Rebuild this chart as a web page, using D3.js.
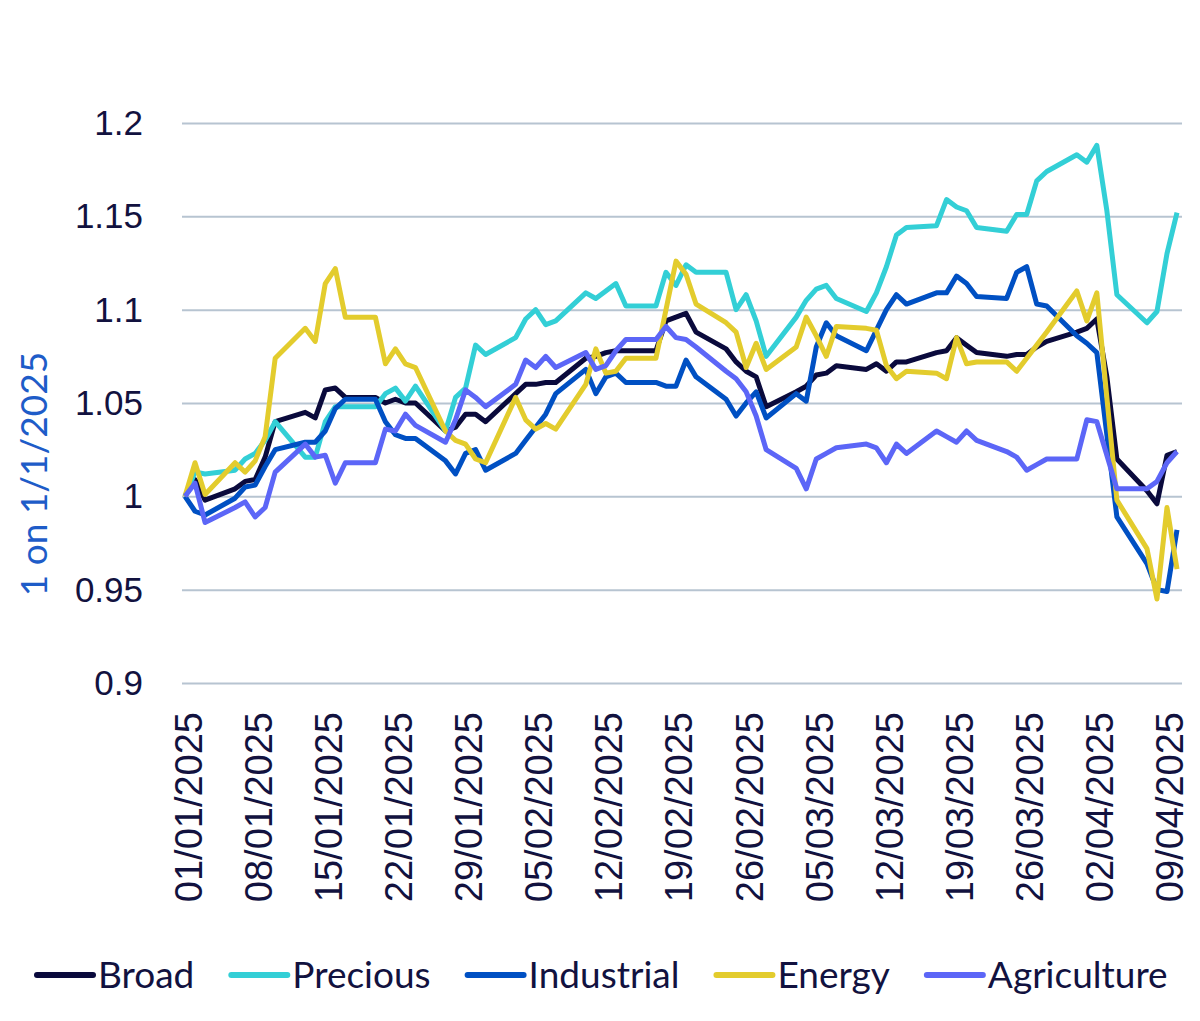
<!DOCTYPE html>
<html>
<head>
<meta charset="utf-8">
<script src="https://cdn.jsdelivr.net/npm/d3@7"></script>
<style>
	body { margin: 0; background: #fff; }
	svg { display: block; font-family: Lato, 'Noto Sans', sans-serif; }
	.tickLabel { fill: #12123f; }
	.yAxis text { font-size: 35px; }
	.xAxis text { font-size: 38px; }
	#legend text { font-size: 37px; }
</style>
</head>
<body>
<div id="chart"><svg width="1200" height="1021"></svg></div>
<script>
// trading days (holidays carry the previous value)
const dates = [
	'2025-01-01', '2025-01-02', '2025-01-03',
	'2025-01-06', '2025-01-07', '2025-01-08', '2025-01-09', '2025-01-10',
	'2025-01-13', '2025-01-14', '2025-01-15', '2025-01-16', '2025-01-17',
	'2025-01-20', '2025-01-21', '2025-01-22', '2025-01-23', '2025-01-24',
	'2025-01-27', '2025-01-28', '2025-01-29', '2025-01-30', '2025-01-31',
	'2025-02-03', '2025-02-04', '2025-02-05', '2025-02-06', '2025-02-07',
	'2025-02-10', '2025-02-11', '2025-02-12', '2025-02-13', '2025-02-14',
	'2025-02-17', '2025-02-18', '2025-02-19', '2025-02-20', '2025-02-21',
	'2025-02-24', '2025-02-25', '2025-02-26', '2025-02-27', '2025-02-28',
	'2025-03-03', '2025-03-04', '2025-03-05', '2025-03-06', '2025-03-07',
	'2025-03-10', '2025-03-11', '2025-03-12', '2025-03-13', '2025-03-14',
	'2025-03-17', '2025-03-18', '2025-03-19', '2025-03-20', '2025-03-21',
	'2025-03-24', '2025-03-25', '2025-03-26', '2025-03-27', '2025-03-28',
	'2025-03-31', '2025-04-01', '2025-04-02', '2025-04-03', '2025-04-04',
	'2025-04-07', '2025-04-08', '2025-04-09', '2025-04-10'
];

const broad = [
	1.000, 1.009, 0.998,
	1.004, 1.008, 1.009, 1.021, 1.040,
	1.045, 1.042, 1.057, 1.058, 1.053,
	1.053, 1.050, 1.052, 1.050, 1.050,
	1.035, 1.037, 1.044, 1.044, 1.040,
	1.055, 1.060, 1.060, 1.061, 1.061,
	1.074, 1.075, 1.077, 1.078, 1.078,
	1.078, 1.094, 1.096, 1.098, 1.088,
	1.079, 1.072, 1.067, 1.064, 1.048,
	1.056, 1.059, 1.065, 1.066, 1.070,
	1.068, 1.071, 1.067, 1.072, 1.072,
	1.077, 1.078, 1.085, 1.081, 1.077,
	1.075, 1.076, 1.076, 1.080, 1.083,
	1.088, 1.090, 1.095, 1.064, 1.020,
	1.003, 0.996, 1.022, 1.024
];

const precious = [
	1.000, 1.013, 1.012,
	1.014, 1.020, 1.023, 1.030, 1.040,
	1.021, 1.021, 1.040, 1.048, 1.048,
	1.048, 1.055, 1.058, 1.051, 1.059,
	1.035, 1.053, 1.058, 1.081, 1.076,
	1.085, 1.095, 1.100, 1.092, 1.094,
	1.109, 1.106, 1.110, 1.114, 1.102,
	1.102, 1.120, 1.113, 1.124, 1.120,
	1.120, 1.100, 1.108, 1.094, 1.075,
	1.096, 1.105, 1.111, 1.113, 1.106,
	1.099, 1.109, 1.123, 1.140, 1.144,
	1.145, 1.159, 1.155, 1.153, 1.144,
	1.142, 1.151, 1.151, 1.169, 1.174,
	1.183, 1.179, 1.188, 1.153, 1.108,
	1.093, 1.099, 1.130, 1.152
];

const industrial = [
	1.000, 0.992, 0.990,
	0.999, 1.005, 1.006, 1.016, 1.025,
	1.029, 1.029, 1.035, 1.047, 1.052,
	1.052, 1.040, 1.033, 1.031, 1.031,
	1.019, 1.012, 1.023, 1.025, 1.014,
	1.023, 1.030, 1.037, 1.044, 1.055,
	1.068, 1.055, 1.064, 1.066, 1.061,
	1.061, 1.059, 1.059, 1.073, 1.064,
	1.052, 1.043, 1.050, 1.056, 1.042,
	1.055, 1.051, 1.080, 1.093, 1.086,
	1.078, 1.089, 1.100, 1.108, 1.103,
	1.109, 1.109, 1.118, 1.114, 1.107,
	1.106, 1.120, 1.123, 1.103, 1.102,
	1.086, 1.082, 1.077, 1.033, 0.989,
	0.964, 0.950, 0.949, 0.982
];

const energy = [
	1.000, 1.018, 1.001,
	1.018, 1.013, 1.019, 1.032, 1.074,
	1.090, 1.083, 1.114, 1.122, 1.096,
	1.096, 1.071, 1.079, 1.071, 1.069,
	1.035, 1.030, 1.028, 1.020, 1.018,
	1.053, 1.041, 1.036, 1.039, 1.036,
	1.060, 1.079, 1.066, 1.067, 1.074,
	1.074, 1.100, 1.126, 1.119, 1.103,
	1.093, 1.088, 1.069, 1.082, 1.068,
	1.080, 1.096, 1.086, 1.075, 1.091,
	1.090, 1.089, 1.070, 1.063, 1.067,
	1.066, 1.063, 1.085, 1.071, 1.072,
	1.072, 1.067, 1.074, 1.081, 1.088,
	1.110, 1.094, 1.109, 1.053, 0.998,
	0.972, 0.945, 0.994, 0.961
];

const agriculture = [
	1.000, 1.007, 0.986,
	0.994, 0.997, 0.989, 0.994, 1.013,
	1.028, 1.021, 1.022, 1.007, 1.018,
	1.018, 1.036, 1.035, 1.044, 1.038,
	1.029, 1.041, 1.057, 1.053, 1.048,
	1.060, 1.073, 1.069, 1.075, 1.069,
	1.077, 1.068, 1.070, 1.078, 1.084,
	1.084, 1.091, 1.085, 1.084, 1.080,
	1.067, 1.063, 1.056, 1.043, 1.025,
	1.015, 1.004, 1.020, 1.023, 1.026,
	1.028, 1.026, 1.018, 1.028, 1.023,
	1.035, 1.032, 1.029, 1.035, 1.030,
	1.024, 1.021, 1.014, 1.017, 1.020,
	1.020, 1.041, 1.040, 1.022, 1.004,
	1.004, 1.008, 1.018, 1.024
];

const seriesNames = [ 'Broad', 'Precious', 'Industrial', 'Energy', 'Agriculture' ];
const seriesColors = [ '#0a0a3c', '#33cfd6', '#0050c3', '#e3cc2d', '#5c66f7' ];

const xTickLabels = [
	'01/01/2025', '08/01/2025', '15/01/2025', '22/01/2025', '29/01/2025',
	'05/02/2025', '12/02/2025', '19/02/2025', '26/02/2025', '05/03/2025',
	'12/03/2025', '19/03/2025', '26/03/2025', '02/04/2025', '09/04/2025'
];
const yTicks = [ 0.9, 0.95, 1, 1.05, 1.1, 1.15, 1.2 ];

/**********************
***** BASIC SETUP *****
**********************/

const svg = d3.select('#chart').select('svg');
const margin = { top: 123, left: 182, right: 18, bottom: 338 };
const width = 1200;
const height = 1021;
const plotBottom = height - margin.bottom;

const parseIso = d3.utcParse('%Y-%m-%d');
const parseTick = d3.utcParse('%d/%m/%Y');

const days = dates.map(parseIso);
const valueSets = [ broad, precious, industrial, energy, agriculture ];

const series = seriesNames.map(function(name, i) {
	return {
		name: name,
		color: seriesColors[i],
		values: days.map(function(d, j) {
			return { date: d, value: valueSets[i][j] };
		})
	};
});

/***********************
***** X & Y SCALES *****
***********************/

const xScale = d3
	.scaleUtc()
	.domain(d3.extent(days))
	.range([ margin.left + 3, width - margin.right - 5 ]);

const yScale = d3.scaleLinear().domain([ 0.9, 1.2 ]).range([ plotBottom, margin.top ]);

/*******************************
***** Y AXIS AND GRIDLINES *****
*******************************/

const yAxis = svg
	.append('g')
	.attr('class', 'yAxis')
	.attr('transform', `translate(${margin.left}, 0)`)
	.call(
		d3
			.axisLeft(yScale)
			.tickValues(yTicks)
			.tickFormat(d3.format(''))
			.tickSize(-(width - margin.left - margin.right))
			.tickPadding(39)
	);

yAxis.select('.domain').remove();
yAxis.selectAll('line').attr('stroke', '#b7c4d1').attr('stroke-width', 2);
yAxis
	.selectAll('text')
	.attr('class', 'tickLabel')
	.attr('font-family', null)
	.attr('font-size', null)
	.attr('dy', '0.33em');

// axis title
svg
	.append('text')
	.attr('transform', 'translate(47, 474) rotate(-90)')
	.attr('text-anchor', 'middle')
	.attr('fill', '#1e5cc8')
	.style('font-size', '37px')
	.text('1 on 1/1/2025');

/*****************
***** X AXIS *****
*****************/

const xAxis = svg
	.append('g')
	.attr('class', 'xAxis')
	.attr('transform', `translate(0, ${plotBottom})`)
	.call(
		d3
			.axisBottom(xScale)
			.tickValues(xTickLabels.map(parseTick))
			.tickFormat(d3.utcFormat('%d/%m/%Y'))
			.tickSize(0)
	);

xAxis.select('.domain').remove();
xAxis
	.selectAll('text')
	.attr('class', 'tickLabel')
	.attr('font-family', null)
	.attr('font-size', null)
	.attr('transform', 'rotate(-90)')
	.attr('text-anchor', 'end')
	.attr('x', -29)
	.attr('y', 16)
	.attr('dy', 0);

/****************
***** LINES *****
****************/

const line = d3
	.line()
	.x(function(d) {
		return xScale(d.date);
	})
	.y(function(d) {
		return yScale(d.value);
	});

svg
	.append('g')
	.attr('id', 'plot')
	.selectAll('.seriesLine')
	.data(series)
	.enter()
	.append('path')
	.attr('class', 'seriesLine')
	.attr('fill', 'none')
	.attr('stroke', function(d) {
		return d.color;
	})
	.attr('stroke-width', 5)
	.attr('stroke-linejoin', 'round')
	.attr('d', function(d) {
		return line(d.values);
	});

/*****************
***** LEGEND *****
*****************/

const legend = svg.append('g').attr('id', 'legend').attr('transform', 'translate(0, 975)');
let legendX = 37;

series.forEach(function(s) {
	const item = legend.append('g');

	item
		.append('line')
		.attr('x1', legendX)
		.attr('x2', legendX + 56)
		.attr('stroke', s.color)
		.attr('stroke-width', 6)
		.attr('stroke-linecap', 'round');

	const label = item
		.append('text')
		.attr('class', 'tickLabel')
		.attr('x', legendX + 61)
		.attr('dy', '0.36em')
		.text(s.name);

	legendX += 61 + label.node().getComputedTextLength() + 37;
});
</script>
</body>
</html>
